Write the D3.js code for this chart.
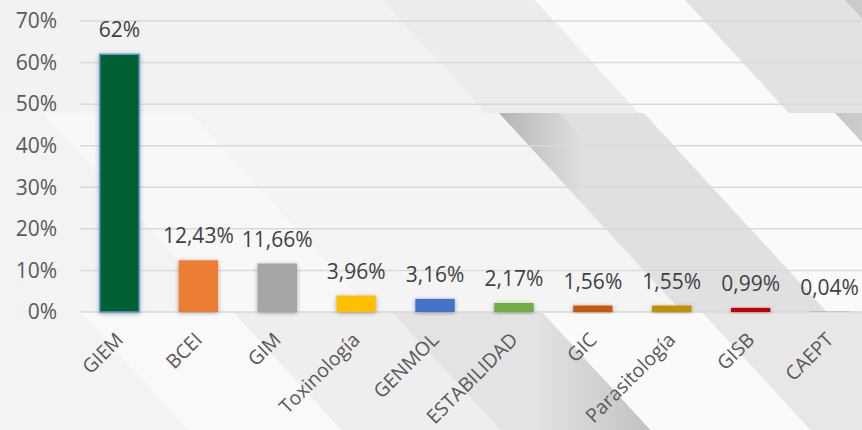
<!DOCTYPE html>
<html>
<head>
<meta charset="utf-8">
<script src="https://cdn.jsdelivr.net/npm/d3@7"></script>
<style>
  body { margin: 0; background: #f4f4f4; }
  svg { display: block; }
  .tick-label, .value-label, .cat-label { font-family: "Open Sans", sans-serif; }
</style>
</head>
<body>
<div id="chart"></div>
<script>
const categories = ["GIEM", "BCEI", "GIM", "Toxinología", "GENMOL", "ESTABILIDAD", "GIC", "Parasitología", "GISB", "CAEPT"];
const values = [62, 12.43, 11.66, 3.96, 3.16, 2.17, 1.56, 1.55, 0.99, 0.04];
const valueLabels = ["62%", "12,43%", "11,66%", "3,96%", "3,16%", "2,17%", "1,56%", "1,55%", "0,99%", "0,04%"];
const barColors = ["#006030", "#ed7d31", "#a5a5a5", "#ffc000", "#4472c4", "#70ad47", "#c55a11", "#bf9000", "#c00000", "#7030a0"];
const yTicks = [0, 10, 20, 30, 40, 50, 60, 70];

const width = 862, height = 430;
// plot area runs a little past the right edge (cropped like the original)
const margin = { top: 21, right: -7, bottom: 118, left: 80 };

const svg = d3.select("#chart").append("svg")
    .attr("width", width)
    .attr("height", height);

let defs = svg.append("defs");

// soft shadow under the bars
let shadow = defs.append("filter").attr("id", "barShadow")
    .attr("x", "-30%").attr("y", "-30%").attr("width", "160%").attr("height", "160%");
shadow.append("feDropShadow")
    .attr("dx", 0).attr("dy", 1)
    .attr("stdDeviation", 2)
    .attr("flood-color", "#000")
    .attr("flood-opacity", 0.35);

function hGrad(id, stops) {
    let g = defs.append("linearGradient").attr("id", id)
        .attr("x1", "0%").attr("x2", "100%").attr("y1", "0%").attr("y2", "0%");
    stops.forEach(s => g.append("stop").attr("offset", s[0]).attr("stop-color", s[1]));
}
hGrad("shadeLeft", [["0%", "#b4b4b4"], ["45%", "#e0e0e0"]]);
hGrad("shadeRight", [["55%", "#e3e3e3"], ["100%", "#c2c2c2"]]);
hGrad("corner", [["0%", "#c6c6c6"], ["45%", "#e8e8e8"], ["100%", "#f0f0f0"]]);

// decorative background: diagonal stripes in three horizontal slabs
let bg = svg.append("g").attr("class", "background");
bg.append("rect").attr("width", width).attr("height", height).attr("fill", "#f4f4f4");

const slope = 0.92;
function stripe(x0, x1, y0, y1, fill) {
    let dy = y1 - y0;
    let pts = [[x0, y0], [x1, y0], [x1 + slope * dy, y1], [x0 + slope * dy, y1]];
    bg.append("polygon").attr("points", pts.map(p => p.join(",")).join(" ")).attr("fill", fill);
}
// top slab
stripe(-200, 382, 0, 113, "#f2f2f2");
stripe(382, 535, 0, 113, "#ececec");
stripe(535, 685, 0, 113, "#fafafa");
stripe(685, 845, 0, 113, "#e2e2e2");
stripe(845, 960, 0, 113, "url(#corner)");
// middle slab
stripe(-200, 43, 113, 312, "#f3f3f3");
stripe(43, 190, 113, 312, "#f8f8f8");
stripe(190, 499, 113, 312, "#f4f4f4");
stripe(499, 644, 113, 312, "#e0e0e0");
stripe(499, 560, 113, 250, "url(#shadeLeft)");
stripe(644, 835, 113, 312, "#fafafa");
stripe(835, 960, 113, 312, "url(#corner)");
// bottom slab
stripe(-200, 80, 312, 430, "#f3f3f3");
stripe(80, 233, 312, 430, "#f9f9f9");
stripe(233, 392, 312, 430, "#eeeeee");
stripe(392, 542, 312, 430, "url(#shadeRight)");
stripe(542, 702, 312, 430, "#fafafa");
stripe(702, 900, 312, 430, "#e7e7e7");

let x = d3.scaleBand()
    .domain(categories)
    .range([margin.left, width - margin.right])
    .paddingInner(0.5)
    .paddingOuter(0.25);

let y = d3.scaleLinear()
    .domain([0, 70])
    .range([height - margin.bottom, margin.top]);

// gridlines
svg.append("g").attr("class", "grid")
    .selectAll("line")
    .data(yTicks)
    .enter()
    .append("line")
    .attr("x1", 80)
    .attr("x2", width)
    .attr("y1", d => y(d))
    .attr("y2", d => y(d))
    .attr("stroke", "#d9d9d9")
    .attr("stroke-width", 1.5);

// y axis labels
let yAxis = svg.append("g")
    .attr("transform", `translate(${57}, 0)`)
    .call(d3.axisLeft(y).tickValues(yTicks).tickFormat(d => d + "%").tickSize(0).tickPadding(0));
yAxis.select(".domain").remove();
yAxis.selectAll("text")
    .attr("class", "tick-label")
    .style("font-size", "21px")
    .attr("fill", "#595959");

// bars
svg.append("g").attr("class", "bars")
    .selectAll("rect")
    .data(values)
    .enter()
    .append("rect")
    .attr("x", (d, i) => x(categories[i]))
    .attr("y", d => y(d))
    .attr("width", x.bandwidth())
    .attr("height", d => y(0) - y(d))
    .attr("fill", (d, i) => barColors[i])
    .attr("stroke", (d, i) => i === 0 ? "#5b9bd5" : "none")
    .attr("stroke-width", 1.5)
    .attr("filter", "url(#barShadow)");

// value labels
svg.append("g").attr("class", "values")
    .selectAll("text")
    .data(values)
    .enter()
    .append("text")
    .attr("class", "value-label")
    .attr("x", (d, i) => x(categories[i]) + x.bandwidth() / 2)
    .attr("y", d => y(d) - 17)
    .attr("text-anchor", "middle")
    .style("font-size", "21px")
    .attr("fill", "#404040")
    .text((d, i) => valueLabels[i]);

// category labels, rotated
svg.append("g").attr("class", "cats")
    .selectAll("text")
    .data(categories)
    .enter()
    .append("text")
    .attr("class", "cat-label")
    .attr("transform", d => `translate(${x(d) + x.bandwidth() / 2 + 5}, ${341}) rotate(-45)`)
    .attr("text-anchor", "end")
    .style("font-size", "19.5px")
    .attr("fill", "#595959")
    .text(d => d);
</script>
</body>
</html>
